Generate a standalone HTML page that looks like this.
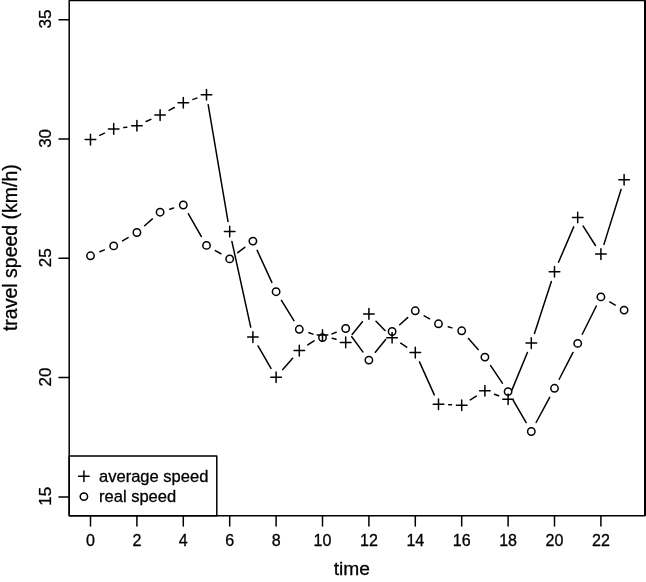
<!DOCTYPE html>
<html><head><meta charset="utf-8"><title>travel speed</title>
<style>
html,body{margin:0;padding:0;background:#fff;}
svg{display:block;}
text{font-family:"Liberation Sans",Arial,Helvetica,sans-serif;fill:#000;stroke:#000;stroke-width:0.3px;}
</style></head><body>
<svg width="646" height="582" viewBox="0 0 646 582">
<rect x="0" y="0" width="646" height="582" fill="#fff" stroke="none"/>
<g fill="none" stroke="#000" stroke-width="1.5" stroke-linecap="round" stroke-linejoin="round">
<path d="M99.76 135.33L104.44 133.17M123.81 127.55L126.79 127.15M146.16 121.53L150.84 119.37M169.10 110.29L174.30 107.51M192.96 99.41L196.84 98.09M208.21 104.86L227.99 221.44M231.89 241.46L250.71 327.14M258.00 345.93L271.00 368.47M282.79 369.60L292.61 358.30M307.78 344.93L314.02 340.77M332.23 338.16L335.97 339.34M352.14 334.49L362.46 321.81M376.02 321.20L384.98 330.40M400.68 343.21L406.72 347.09M419.48 361.90L434.32 394.90M448.69 404.68L451.51 404.82M470.33 399.87L476.27 396.13M494.46 394.25L498.54 395.75M511.99 389.87L527.41 352.53M534.45 333.40L551.35 281.40M558.51 262.32L573.69 226.88M583.16 226.12L595.44 245.48M603.94 244.36L621.06 189.54M99.88 251.80L104.32 249.90M122.53 240.80L128.07 237.60M144.58 225.78L152.42 218.92M169.84 209.18L173.56 208.02M188.38 213.85L201.42 236.55M215.32 250.53L220.88 253.77M237.79 252.69L244.81 247.31M257.15 250.37L271.85 282.43M281.46 300.38L293.94 320.62M308.90 332.74L312.90 334.16M332.00 333.88L336.20 332.22M351.74 336.72L362.86 351.88M375.33 352.18L385.67 339.42M399.71 324.71L407.69 317.59M424.20 315.79L429.60 318.81M448.27 326.75L451.93 327.85M468.45 338.45L478.15 349.45M490.59 365.56L502.41 383.14M513.23 400.42L526.17 422.68M536.13 422.51L549.67 397.29M559.18 379.24L573.02 352.46M582.25 334.27L596.35 306.03M609.77 301.94L615.23 305.06"/>
<path d="M85.20 139.60h10.60M90.50 134.30v10.60M108.40 128.90h10.60M113.70 123.60v10.60M131.60 125.80h10.60M136.90 120.50v10.60M154.80 115.10h10.60M160.10 109.80v10.60M178.00 102.70h10.60M183.30 97.40v10.60M201.20 94.80h10.60M206.50 89.50v10.60M224.40 231.50h10.60M229.70 226.20v10.60M247.60 337.10h10.60M252.90 331.80v10.60M270.80 377.30h10.60M276.10 372.00v10.60M294.00 350.60h10.60M299.30 345.30v10.60M317.20 335.10h10.60M322.50 329.80v10.60M340.40 342.40h10.60M345.70 337.10v10.60M363.60 313.90h10.60M368.90 308.60v10.60M386.80 337.70h10.60M392.10 332.40v10.60M410.00 352.60h10.60M415.30 347.30v10.60M433.20 404.20h10.60M438.50 398.90v10.60M456.40 405.30h10.60M461.70 400.00v10.60M479.60 390.70h10.60M484.90 385.40v10.60M502.80 399.30h10.60M508.10 394.00v10.60M526.00 343.10h10.60M531.30 337.80v10.60M549.20 271.70h10.60M554.50 266.40v10.60M572.40 217.50h10.60M577.70 212.20v10.60M595.60 254.10h10.60M600.90 248.80v10.60M618.80 179.80h10.60M624.10 174.50v10.60M78.60 476.30h10.60M83.90 471.00v10.60"/>
<circle cx="90.50" cy="255.80" r="3.7"/>
<circle cx="113.70" cy="245.90" r="3.7"/>
<circle cx="136.90" cy="232.50" r="3.7"/>
<circle cx="160.10" cy="212.20" r="3.7"/>
<circle cx="183.30" cy="205.00" r="3.7"/>
<circle cx="206.50" cy="245.40" r="3.7"/>
<circle cx="229.70" cy="258.90" r="3.7"/>
<circle cx="252.90" cy="241.10" r="3.7"/>
<circle cx="276.10" cy="291.70" r="3.7"/>
<circle cx="299.30" cy="329.30" r="3.7"/>
<circle cx="322.50" cy="337.60" r="3.7"/>
<circle cx="345.70" cy="328.50" r="3.7"/>
<circle cx="368.90" cy="360.10" r="3.7"/>
<circle cx="392.10" cy="331.50" r="3.7"/>
<circle cx="415.30" cy="310.80" r="3.7"/>
<circle cx="438.50" cy="323.80" r="3.7"/>
<circle cx="461.70" cy="330.80" r="3.7"/>
<circle cx="484.90" cy="357.10" r="3.7"/>
<circle cx="508.10" cy="391.60" r="3.7"/>
<circle cx="531.30" cy="431.50" r="3.7"/>
<circle cx="554.50" cy="388.30" r="3.7"/>
<circle cx="577.70" cy="343.40" r="3.7"/>
<circle cx="600.90" cy="296.90" r="3.7"/>
<circle cx="624.10" cy="310.10" r="3.7"/>
<circle cx="83.9" cy="496.6" r="3.7"/>
<rect x="69.2" y="0.4" width="575.8" height="515.4"/>
<path d="M645 0.4V515.8" stroke-width="2" stroke-linecap="butt"/>
<rect x="69.2" y="455.9" width="147.60000000000002" height="59.89999999999998"/>
<path d="M90.50 515.8v10.2M136.90 515.8v10.2M183.30 515.8v10.2M229.70 515.8v10.2M276.10 515.8v10.2M322.50 515.8v10.2M368.90 515.8v10.2M415.30 515.8v10.2M461.70 515.8v10.2M508.10 515.8v10.2M554.50 515.8v10.2M600.90 515.8v10.2M69.2 19.70h-10.2M69.2 139.00h-10.2M69.2 258.30h-10.2M69.2 377.60h-10.2M69.2 496.90h-10.2"/>
</g>
<g font-size="17">
<text transform="translate(90.50 545.7) scale(0.945 1)" text-anchor="middle">0</text>
<text transform="translate(136.90 545.7) scale(0.945 1)" text-anchor="middle">2</text>
<text transform="translate(183.30 545.7) scale(0.945 1)" text-anchor="middle">4</text>
<text transform="translate(229.70 545.7) scale(0.945 1)" text-anchor="middle">6</text>
<text transform="translate(276.10 545.7) scale(0.945 1)" text-anchor="middle">8</text>
<text transform="translate(322.50 545.7) scale(0.945 1)" text-anchor="middle">10</text>
<text transform="translate(368.90 545.7) scale(0.945 1)" text-anchor="middle">12</text>
<text transform="translate(415.30 545.7) scale(0.945 1)" text-anchor="middle">14</text>
<text transform="translate(461.70 545.7) scale(0.945 1)" text-anchor="middle">16</text>
<text transform="translate(508.10 545.7) scale(0.945 1)" text-anchor="middle">18</text>
<text transform="translate(554.50 545.7) scale(0.945 1)" text-anchor="middle">20</text>
<text transform="translate(600.90 545.7) scale(0.945 1)" text-anchor="middle">22</text>
<text transform="translate(50.8 19.10) rotate(-90)" text-anchor="middle">35</text>
<text transform="translate(50.8 138.40) rotate(-90)" text-anchor="middle">30</text>
<text transform="translate(50.8 257.70) rotate(-90)" text-anchor="middle">25</text>
<text transform="translate(50.8 377.00) rotate(-90)" text-anchor="middle">20</text>
<text transform="translate(50.8 496.30) rotate(-90)" text-anchor="middle">15</text>
<text x="351.8" y="575" text-anchor="middle" font-size="19.2">time</text>
<text transform="translate(17.3 247.6) rotate(-90)" text-anchor="middle" font-size="19.5">travel speed (km/h)</text>
<text x="99" y="481.6" font-size="16.55">average speed</text>
<text x="99" y="501.6" font-size="16.55">real speed</text>
</g>
</svg>
</body></html>
